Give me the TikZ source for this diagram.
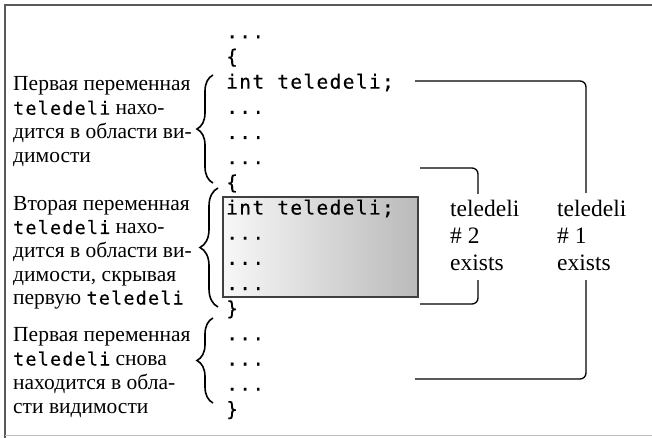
\documentclass[tikz,border=0pt]{standalone}
\usepackage{fontspec}
\setmainfont{Liberation Serif}
\newfontfamily\codefont[LetterSpace=7,FakeBold=0.4]{DejaVu Sans Mono}
\usetikzlibrary{decorations.pathreplacing}
\newcommand\cd[1]{{\codefont\fontsize{18.3}{20}\selectfont #1}}
\newcommand\blk[2]{\vtop{\baselineskip=#1\lineskiplimit=-\maxdimen\halign{##\hfil\cr#2\crcr}}}
\begin{document}
\begin{tikzpicture}[x=1pt,y=1pt,
  codeline/.style={anchor=base west,inner sep=0pt,font=\codefont\fontsize{19.5}{20}\selectfont},
  lefttext/.style={anchor=base west,inner sep=0pt,font=\fontsize{21.5}{23.6}\selectfont},
  lab/.style={anchor=base west,inner sep=0pt,font=\fontsize{23.5}{27}\selectfont},
  conn/.style={draw=black,line width=1.3pt,rounded corners=6pt},
  bracestyle/.style={draw=black,line width=1.6pt,decorate,decoration={brace,amplitude=#1}},
  gbox/.style={draw=black!75,line width=2.5pt,left color=black!3,right color=black!27,
    minimum width=195pt,minimum height=100pt,inner sep=0pt}]
\useasboundingbox (0,0) rectangle (652,-438);
% frame
\draw[draw=black!65,line width=2pt] (5.3,-438) -- (5.3,-5) -- (652,-5);
\draw[draw=black!25,line width=1.5pt] (5.3,-435.5) -- (652,-435.5);
% gray box
\node[gbox] (box) at (320.5,-247) {};
% code
\node[codeline] (c0) at (226,-38.3) {...};
\node[codeline] (c1) at (226,-63.5) {\{};
\node[codeline] (c2) at (226,-88.6) {int teledeli;};
\node[codeline] (c3) at (226,-113.8) {...};
\node[codeline] (c4) at (226,-139.0) {...};
\node[codeline] (c5) at (226,-164.2) {...};
\node[codeline] (c6) at (226,-189.3) {\{};
\node[codeline] (c7) at (226,-214.5) {int teledeli;};
\node[codeline] (c8) at (226,-239.7) {...};
\node[codeline] (c9) at (226,-264.8) {...};
\node[codeline] (c10) at (226,-290.0) {...};
\node[codeline] (c11) at (226,-315.2) {\}};
\node[codeline] (c12) at (226,-340.3) {...};
\node[codeline] (c13) at (226,-365.5) {...};
\node[codeline] (c14) at (226,-390.7) {...};
\node[codeline] (c15) at (226,-415.9) {\}};
% left texts
\node[lefttext] (t1) at (13,-91) {\blk{23.7pt}{Первая переменная\cr \cd{teledeli} нахо-\cr дится в области ви-\cr димости}};
\node[lefttext] (t2) at (13,-210.5) {\blk{23.5pt}{Вторая переменная\cr \cd{teledeli} нахо-\cr дится в области ви-\cr димости, скрывая\cr первую \cd{teledeli}}};
\node[lefttext] (t3) at (13,-341.5) {\blk{24pt}{Первая переменная\cr \cd{teledeli} снова\cr находится в обла-\cr сти видимости}};
% braces
\coordinate (p1b) at (213,-183); \coordinate (p1t) at (213,-75);
\coordinate (p2b) at (218,-307); \coordinate (p2t) at (218,-188);
\coordinate (p3b) at (213,-403); \coordinate (p3t) at (213,-318);
\draw[bracestyle=16pt] (p1b) -- (p1t);
\draw[bracestyle=18pt] (p2b) -- (p2t);
\draw[bracestyle=16pt] (p3b) -- (p3t);
% right labels
\node[lab] (L2) at (450,-216) {\blk{27pt}{teledeli\cr \# 2\cr exists}};
\node[lab] (L1) at (557,-216) {\blk{27pt}{teledeli\cr \# 1\cr exists}};
% connectors
\coordinate (a1) at (415,-81); \coordinate (a2) at (586,-193);
\coordinate (a3) at (586,-280); \coordinate (a4) at (415,-379);
\coordinate (b1) at (420,-168); \coordinate (b2) at (478,-194);
\coordinate (b3) at (478,-280); \coordinate (b4) at (420,-304);
\draw[conn] (a1) -| (a2);
\draw[conn] (a3) |- (a4);
\draw[conn] (b1) -| (b2);
\draw[conn] (b3) |- (b4);
\end{tikzpicture}
\end{document}
